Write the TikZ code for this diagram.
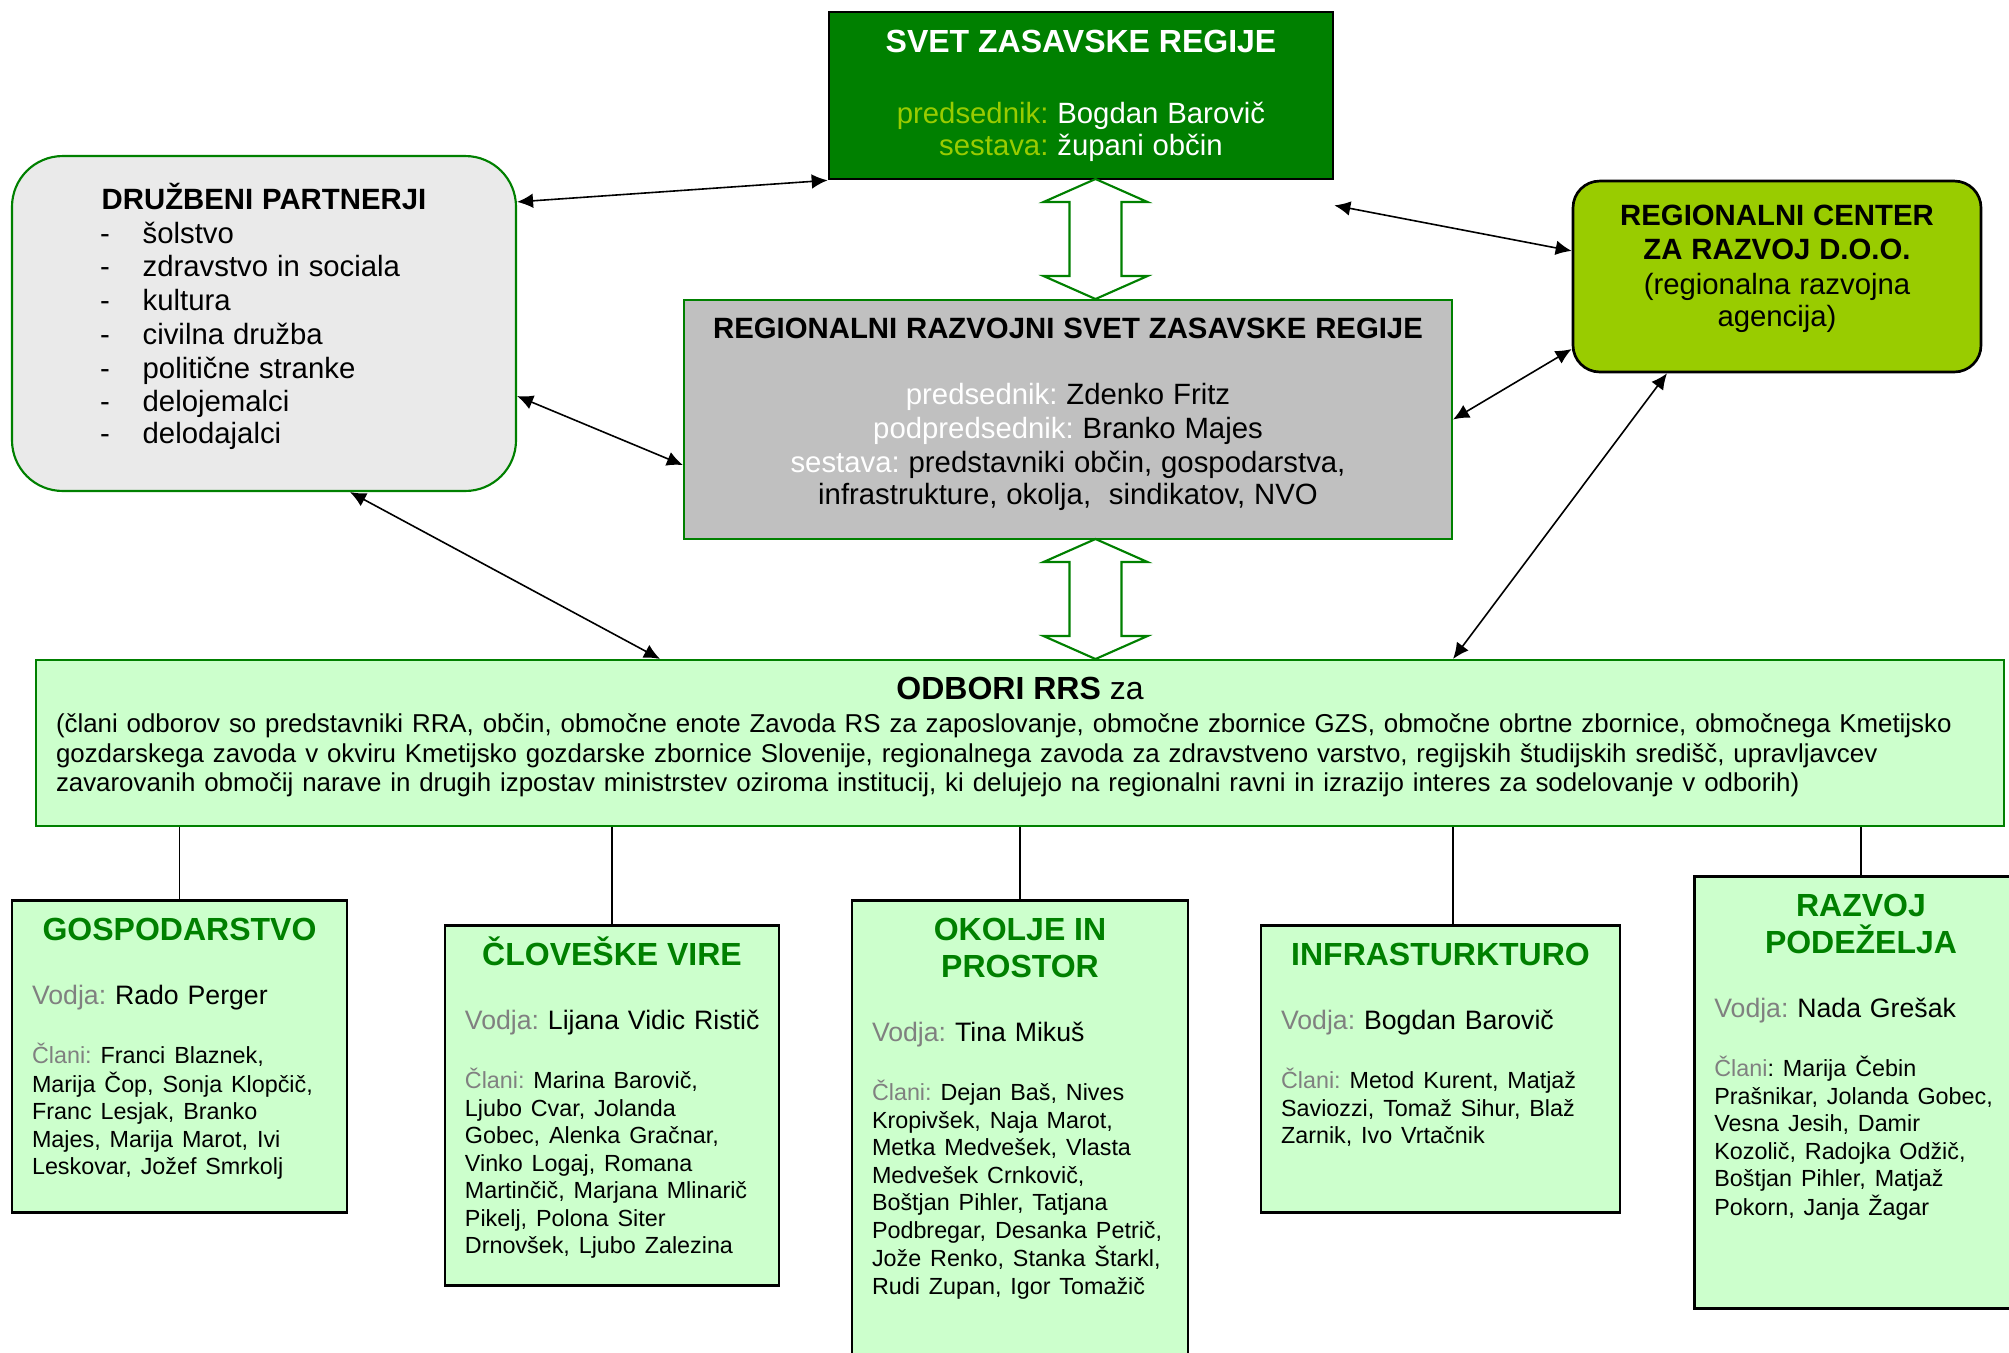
\documentclass[tikz,border=0pt]{standalone}
\usepackage{fontspec}
\setmainfont{Liberation Sans}
\usepackage{xcolor}
\usetikzlibrary{arrows.meta}
\definecolor{ZasGreen}{HTML}{008000}
\definecolor{ZasLime}{HTML}{99CC00}
\definecolor{ZasGray}{HTML}{C0C0C0}
\definecolor{ZasLight}{HTML}{EAEAEA}
\definecolor{ZasMint}{HTML}{CCFFCC}
\definecolor{ZasLabel}{HTML}{808080}
\newcommand{\fsz}[2]{\fontsize{#1}{#2}\selectfont}
\newcommand{\alineja}[1]{\hspace*{33pt}\makebox[16pt][l]{-}#1}
\newcommand{\vrstice}[1]{\begin{tabular}[t]{@{}l@{}}#1\end{tabular}}
\newcommand{\naslovodbora}[1]{{\centering\color{ZasGreen}\bfseries\fsz{12}{13.9}#1\par}\vspace{12.5pt}}
\newcommand{\vodja}[1]{{\fsz{10}{11.5}\mbox{\textcolor{ZasLabel}{Vodja:} #1}\par}\vspace{11.8pt}}
\newcommand{\clani}[1]{{\fsz{8.75}{10.3}\vrstice{#1}\par}}

\begin{document}
\frenchspacing
\begin{tikzpicture}[x=0.375pt, y=-0.375pt,
                    >={Latex[length=6pt,width=5.5pt]},
                    every node/.style={inner ysep=0pt},
                    vez/.style={draw=black, line width=0.5pt},
                    puscica/.style={<->, line width=0.6pt},
                    odbor/.style={draw=black, line width=1pt, fill=ZasMint, anchor=north,
                                  inner xsep=7.5pt, align=left, text height=15.2pt},
                    blok/.pic={\draw[ZasGreen, line width=0.8pt, fill=white]
                               (0,0) -- (52,23) -- (26,23) -- (26,97) -- (52,97) -- (0,120)
                               -- (-52,97) -- (-26,97) -- (-26,23) -- (-52,23) -- cycle;}]
\useasboundingbox (0,0) rectangle (2009,1352);

% upper level
\node[draw=black, line width=1pt, fill=ZasGreen, text=white, align=center,
      text width=180pt, inner xsep=4.5pt, text height=15.2pt, text depth=47.4pt] (svet) at (1081,95.5)
  {\fsz{12}{12.65}\bfseries SVET ZASAVSKE REGIJE\\[14pt]
   \mdseries\fsz{11}{12.65}\textcolor{ZasLime}{predsednik:} Bogdan Barovič\\
   \textcolor{ZasLime}{sestava:} župani občin};
\node[draw=ZasGreen, line width=0.8pt, fill=ZasLight, rounded corners=19pt, align=left,
      text width=189pt, inner xsep=0pt, text height=20pt, text depth=105.6pt] (druz) at (264,323.5)
  {\fsz{11}{12.65}{\centering\bfseries DRUŽBENI PARTNERJI\par}
   \alineja{šolstvo}\\ \alineja{zdravstvo in sociala}\\ \alineja{kultura}\\
   \alineja{civilna družba}\\ \alineja{politične stranke}\\ \alineja{delojemalci}\\
   \alineja{delodajalci}};
\node[draw=black, line width=1pt, fill=ZasLime, rounded corners=10pt, align=center,
      text width=150pt, inner xsep=1.5pt, text height=16.7pt, text depth=54.9pt] (rc) at (1777,276.5)
  {\fsz{11}{12.9}\textbf{REGIONALNI CENTER\\ZA RAZVOJ D.O.O.}\\(regionalna razvojna\\agencija)};
\node[draw=ZasGreen, line width=0.8pt, fill=ZasGray, align=center,
      text width=282pt, inner xsep=3pt, text height=14.45pt, text depth=75.15pt] (rrs) at (1068,419.5)
  {\fsz{11}{12.65}\textbf{REGIONALNI RAZVOJNI SVET ZASAVSKE REGIJE}\\[12.2pt]
   \textcolor{white}{predsednik:} Zdenko Fritz\\
   \textcolor{white}{podpredsednik:} Branko Majes\\
   \textcolor{white}{sestava:} predstavniki občin, gospodarstva,\\
   infrastrukture, okolja,\ \ sindikatov, NVO};
\node[draw=ZasGreen, line width=0.8pt, fill=ZasMint, align=left,
      text width=723pt, inner xsep=7.5pt, text height=14.8pt, text depth=47.45pt] (odbori) at (1020,743)
  {{\centering\fsz{12}{13.8}\textbf{ODBORI RRS} za\par}\vspace{1.5pt}
   {\fsz{9.7}{11.06}\vrstice{(člani odborov so predstavniki RRA, občin, območne enote Zavoda RS za zaposlovanje, območne zbornice GZS, območne obrtne zbornice, območnega Kmetijsko\\
   gozdarskega zavoda v okviru Kmetijsko gozdarske zbornice Slovenije, regionalnega zavoda za zdravstveno varstvo, regijskih študijskih središč, upravljavcev\\
   zavarovanih območij narave in drugih izpostav ministrstev oziroma institucij, ki delujejo na regionalni ravni in izrazijo interes za sodelovanje v odborih)}\par}};

% committees
\node[odbor, text width=110.6pt, text depth=101.8pt] (gosp) at (179.5,899)
  {\naslovodbora{GOSPODARSTVO}\vodja{Rado Perger}
   \clani{\textcolor{ZasLabel}{Člani:} Franci Blaznek,\\Marija Čop, Sonja Klopčič,\\Franc Lesjak, Branko\\Majes, Marija Marot, Ivi\\Leskovar, Jožef Smrkolj}};
\node[odbor, text width=110.3pt, text depth=119.8pt] (clov) at (612,924)
  {\naslovodbora{ČLOVEŠKE VIRE}\vodja{Lijana Vidic Ristič}
   \clani{\textcolor{ZasLabel}{Člani:} Marina Barovič,\\Ljubo Cvar, Jolanda\\Gobec, Alenka Gračnar,\\Vinko Logaj, Romana\\Martinčič, Marjana Mlinarič\\Pikelj, Polona Siter\\Drnovšek, Ljubo Zalezina}};
\node[odbor, text width=111pt, text depth=161.4pt] (okolje) at (1020,899)
  {\naslovodbora{OKOLJE IN\\PROSTOR}\vodja{Tina Mikuš}
   \clani{\textcolor{ZasLabel}{Člani:} Dejan Baš, Nives\\Kropivšek, Naja Marot,\\Metka Medvešek, Vlasta\\Medvešek Crnkovič,\\Boštjan Pihler, Tatjana\\Podbregar, Desanka Petrič,\\Jože Renko, Stanka Štarkl,\\Rudi Zupan, Igor Tomažič}};
\node[odbor, text width=119.6pt, text depth=92.4pt] (infra) at (1440.5,924)
  {\naslovodbora{INFRASTURKTURO}\vodja{Bogdan Barovič}
   \clani{\textcolor{ZasLabel}{Člani:} Metod Kurent, Matjaž\\Saviozzi, Tomaž Sihur, Blaž\\Zarnik, Ivo Vrtačnik}};
\node[odbor, text width=110pt, text depth=146.8pt] (razvoj) at (1861,875)
  {\naslovodbora{RAZVOJ\\PODEŽELJA}\vodja{Nada Grešak}
   \clani{\textcolor{ZasLabel}{Člani}: Marija Čebin\\Prašnikar, Jolanda Gobec,\\Vesna Jesih, Damir\\Kozolič, Radojka Odžič,\\Boštjan Pihler, Matjaž\\Pokorn, Janja Žagar}};

% block arrows
\pic at (1095.5,179) {blok};
\pic at (1095.5,539) {blok};

% connectors
\draw[puscica] ([yshift=45.6pt]druz.east) -- (svet.south west);
\draw[puscica] ([yshift=-9.4pt]svet.south east) -- ([yshift=9.6pt]rc.west);
\draw[puscica] ([yshift=-27.2pt]druz.east) -- ([yshift=-17.1pt]rrs.west);
\draw[puscica] ([xshift=32.25pt]druz.south) -- ([xshift=-135pt]odbori.north);
\draw[puscica] (rrs.east) -- ([yshift=-27.2pt]rc.west);
\draw[puscica] ([xshift=-41.25pt]rc.south) -- ([xshift=162.4pt]odbori.north);
\foreach \o in {gosp,clov,okolje,razvoj}
  \draw[vez] (\o.north) -- (\o.north |- odbori.south);
\draw[vez] ([xshift=4.7pt]infra.north) -- ([xshift=4.7pt]infra.north |- odbori.south);
\end{tikzpicture}
\end{document}
